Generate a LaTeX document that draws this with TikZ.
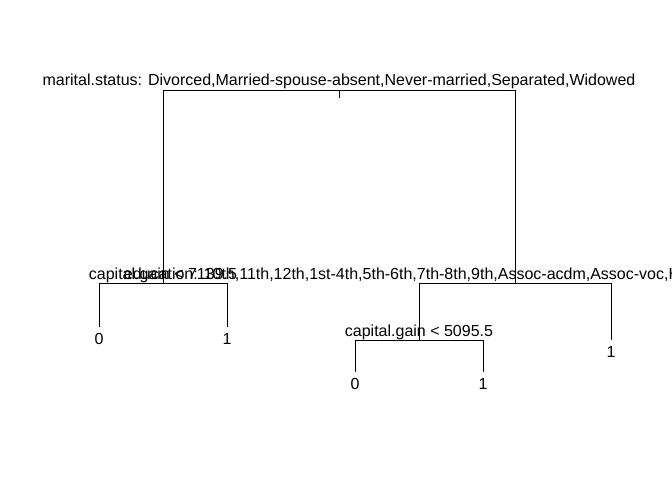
\documentclass[tikz,border=0pt]{standalone}
\usepackage{fontspec}
\setmainfont{Liberation Sans}
\usepackage{tikz}
\usetikzlibrary{positioning}

\begin{document}
\begin{tikzpicture}[x=1pt, y=-1pt,
    font=\fontsize{16}{19}\selectfont,
    every path/.style={line width=0.8pt},
    splitlabel/.style={inner sep=0pt, anchor=base},
    leaf/.style={inner sep=0pt, outer sep=0pt, anchor=north}]
    \useasboundingbox (0,0) rectangle (672,480);
    % split points of the tree
    \coordinate (root) at (339,90);
    \coordinate (rootstem) at (339,98);
    \coordinate (marL) at (163,283);
    \coordinate (marR) at (515,283);
    \coordinate (eduL) at (419,340);
    % split labels
    \node[splitlabel] (marital) at (339,85) {marital.status: Divorced,Married-spouse-absent,Never-married,Separated,Widowed};
    \node[splitlabel] (gainA) at (163,279) {capital.gain < 7139.5};
    \node[splitlabel] (edu) at (515,279) {education: 10th,11th,12th,1st-4th,5th-6th,7th-8th,9th,Assoc-acdm,Assoc-voc,HS-grad,Preschool,Some-college};
    \node[splitlabel] (gainB) at (419,336) {capital.gain < 5095.5};
    % leaves
    \coordinate (endA) at (99,327);
    \coordinate (endB) at (227,327);
    \coordinate (endC) at (355,372);
    \coordinate (endD) at (483,372);
    \coordinate (endE) at (611,340);
    \node[leaf, below=6pt of endA] (leafA) {0};
    \node[leaf, below=6pt of endB] (leafB) {1};
    \node[leaf, below=6pt of endC] (leafC) {0};
    \node[leaf, below=6pt of endD] (leafD) {1};
    \node[leaf, below=6pt of endE] (leafE) {1};
    % branches
    \draw (root) -- (rootstem);
    \draw (root) -| (marL);
    \draw (root) -| (marR);
    \draw (marL) -| (endA);
    \draw (marL) -| (endB);
    \draw (marR) -| (eduL);
    \draw (marR) -| (endE);
    \draw (eduL) -| (endC);
    \draw (eduL) -| (endD);
\end{tikzpicture}
\end{document}
